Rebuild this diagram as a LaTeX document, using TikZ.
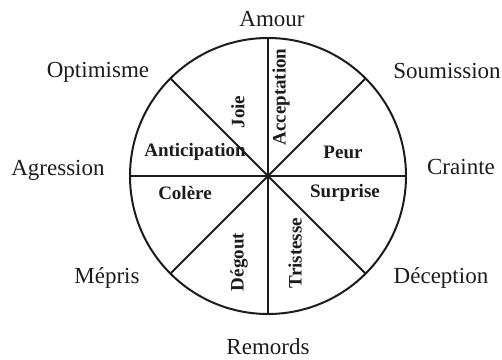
\documentclass[tikz,border=0pt]{standalone}
\usepackage{fontspec}
\setmainfont{Liberation Serif}
\usepackage{xcolor}
\usepackage{tikz}
\usetikzlibrary{positioning}
\definecolor{wink}{HTML}{1C1C1C}
\tikzset{
  rim/.style={circle,draw=wink,line width=1pt,minimum size=138pt,
              inner sep=0pt,outer sep=0pt},
  spoke/.style={draw=wink,line width=0.9pt},
  mood/.style={font=\fontsize{11.5}{13}\selectfont,text=wink,inner sep=0pt},
  feel/.style={font=\fontsize{9.5}{11}\selectfont\bfseries,text=wink,inner sep=0pt},
  feelup/.style={feel,rotate=90},
}

\begin{document}
\begin{tikzpicture}[x=0.5pt,y=0.5pt]
\useasboundingbox (-268,-183) rectangle (234,176);
% the wheel and its spokes
\node[rim] (wheel) at (0,0) {};
\draw[spoke] (wheel.north) -- (wheel.south);
\draw[spoke] (wheel.west) -- (wheel.east);
\draw[spoke] (wheel.135) -- (wheel.-45);
\draw[spoke] (wheel.45) -- (wheel.-135);
% outer dyads
\node[mood] (amour) at (4,157) {Amour};
\node[mood] (remords) at (0,-171) {Remords};
\node[mood] (optimisme) at (-170,104) {Optimisme};
\node[mood] (soumission) at (179,105) {Soumission};
\node[mood] (agression) at (-210,6) {Agression};
\node[mood] (crainte) at (193,9) {Crainte};
\node[mood] (mepris) at (-161,-102) {Mépris};
\node[mood] (deception) at (173,-102) {Déception};
% primary emotions
\node[feelup] (joie) at (-30,64) {Joie};
\node[feelup] (acceptation) at (13,79) {Acceptation};
\node[feel] (anticipation) at (-73,24) {Anticipation};
\node[feel] (peur) at (75,24) {Peur};
\node[feel] (colere) at (-83,-17) {Colère};
\node[feel] (surprise) at (77,-17) {Surprise};
\node[feelup] (degout) at (-29,-86) {Dégout};
\node[feelup] (tristesse) at (27,-77) {Tristesse};
\end{tikzpicture}
\end{document}
